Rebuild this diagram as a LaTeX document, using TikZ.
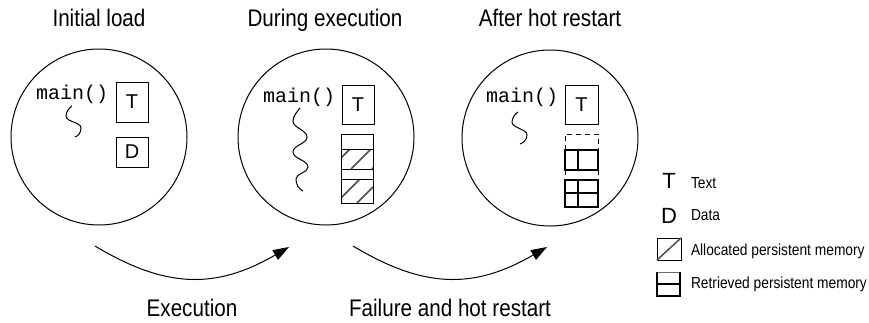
\documentclass[tikz,border=0pt]{standalone}
\usepackage{fontspec}
\setmainfont{Liberation Sans}
\newfontfamily\labelfont[FakeStretch=0.86]{Liberation Sans}
\newfontfamily\codefont{Liberation Mono}
\usetikzlibrary{arrows.meta}

\begin{document}
\begin{tikzpicture}[x=1pt,y=-1pt,
  every node/.style={inner sep=0pt, outer sep=0pt},
  title/.style={font=\labelfont\fontsize{24}{28}\selectfont, anchor=base},
  legendtext/.style={font=\labelfont\fontsize{16}{19}\selectfont, anchor=base west},
  glyph/.style={font=\fontsize{22}{26}\selectfont},
  code/.style={font=\codefont\fontsize{20}{24}\selectfont, anchor=base west},
  process/.style={draw, circle, line width=1pt, minimum size=176pt},
  segbox/.style={draw, line width=1pt, font=\fontsize{20}{24}\selectfont},
  seg/.style={line width=1pt},
  hatch/.style={line width=1.5pt, black!70},
  retr/.style={line width=1.6pt},
  ghost/.style={line width=1pt, dash pattern=on 5pt off 4pt},
  thread/.style={line width=1pt},
  flow/.style={line width=1pt, -{Triangle[length=16pt,width=11pt]}},
]
\useasboundingbox (0,0) rectangle (869,322);

% titles
\node[title] (h1) at (99,26) {Initial load};
\node[title] (h2) at (325,26) {During execution};
\node[title] (h3) at (550,26) {After hot restart};

% the three process images
\node[process] (c1) at (99,137) {};
\node[process] (c2) at (326,137) {};
\node[process] (c3) at (550,138) {};

% ---- initial load
\node[code] (m1) at (36,99) {main()};
\draw[thread] (72,106) .. controls (69,108) and (66,112) .. (66,116)
  .. controls (66,122) and (81,122) .. (81,128)
  .. controls (81,133) and (78,136) .. (75,137);
\node[segbox, minimum width=32pt, minimum height=40pt] (t1) at (132,102) {T};
\node[segbox, minimum width=32pt, minimum height=30pt] (d1) at (132,152) {D};

% ---- during execution
\node[code] (m2) at (263,102) {main()};
\draw[thread] (300,108) .. controls (297,112) and (293,116) .. (293,121)
  .. controls (293,128) and (307,130) .. (307,137)
  .. controls (307,144) and (293,145) .. (293,152)
  .. controls (293,159) and (308,160) .. (308,167)
  .. controls (308,173) and (296,173) .. (296,179)
  .. controls (296,185) and (299,189) .. (303,191);
\node[segbox, minimum width=32pt, minimum height=39pt] (t2) at (358,104.5) {T};
\begin{scope}
  \clip (341,149) rectangle (373,169);
  \foreach \s in {330,351,372} \draw[hatch] (\s,169) -- ++(20,-20);
\end{scope}
\begin{scope}
  \clip (341,179) rectangle (373,203);
  \foreach \s in {336,357,378} \draw[hatch] (\s,203) -- ++(24,-24);
\end{scope}
\draw[seg] (341,134) rectangle (373,149);
\draw[seg] (341,149) rectangle (373,169);
\draw[seg] (341,169) rectangle (373,179);
\draw[seg] (341,179) rectangle (373,203);

% ---- after hot restart
\node[code] (m3) at (486,102) {main()};
\draw[thread] (518,112) .. controls (515,114) and (512,118) .. (512,122)
  .. controls (512,128) and (527,129) .. (527,135)
  .. controls (527,140) and (523,143) .. (520,144);
\node[segbox, minimum width=33pt, minimum height=39pt] (t3) at (581.5,104.5) {T};
\draw[ghost] (565,150) -- (565,134) -- (598,134) -- (598,150);
\draw[ghost] (565,170) -- (565,180);
\draw[ghost] (598,170) -- (598,180);
\draw[retr] (565,150) rectangle (598,170);
\draw[retr] (578,150) -- (578,170);
\draw[retr] (565,180) rectangle (598,207);
\draw[retr] (578,180) -- (578,207);
\draw[retr] (565,193) -- (598,193);

% ---- transitions
\coordinate (e1s) at (95,246);
\coordinate (e1t) at (289,247);
\coordinate (e2s) at (353,246);
\coordinate (e2t) at (547,247);
\draw[flow] (e1s) .. controls (165,288) and (215,290) .. (e1t);
\draw[flow] (e2s) .. controls (423,288) and (473,290) .. (e2t);
\node[title] (l1) at (192,316) {Execution};
\node[title] (l2) at (450,316) {Failure and hot restart};

% ---- legend
\node[glyph] (kT) at (669,181) {T};
\node[glyph] (kD) at (669,216) {D};
\draw[line width=0.9pt] (657,238) rectangle (681,260);
\draw[hatch] (657,260) -- (681,238);
\draw[line width=0.8pt, black!60] (657,272) -- (680,272);
\draw[line width=1.8pt] (657,272) -- (657,296) -- (680,296) -- (680,272);
\draw[line width=1.8pt] (657,284) -- (680,284);
\node[legendtext] (kt1) at (691,188) {Text};
\node[legendtext] (kt2) at (691,220) {Data};
\node[legendtext] (kt3) at (691,255) {Allocated persistent memory};
\node[legendtext] (kt4) at (691,288) {Retrieved persistent memory};
\end{tikzpicture}
\end{document}
